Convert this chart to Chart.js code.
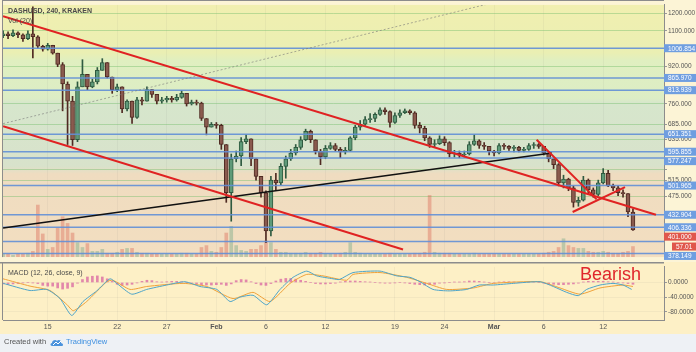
<!DOCTYPE html>
<html>
<head>
<meta charset="utf-8">
<script src="https://cdn.jsdelivr.net/npm/chart.js@4.4.1/dist/chart.umd.min.js"></script>
<style>
body{margin:0;background:#eef1f5;font-family:"Liberation Sans",Arial,sans-serif}
#wrap{position:relative;width:696px;height:352px;overflow:hidden;background:#eef1f5}
canvas{position:absolute;left:0}
.t{position:absolute;white-space:nowrap;line-height:1}
</style>
</head>
<body>
<div id="wrap">
<canvas id="price" width="696" height="262" style="top:0"></canvas>
<canvas id="macd" width="696" height="72" style="top:262px"></canvas>
<div class="t" style="left:8px;top:7px;font-size:7px;color:#4a4a4a;font-weight:bold">DASHUSD, 240, KRAKEN</div>
<div class="t" style="left:8px;top:17px;font-size:7px;color:#4a4a4a">Vol (20)</div>
<div class="t" style="left:8px;top:269px;font-size:7px;color:#4a4a4a">MACD (12, 26, close, 9)</div>
<div class="t" style="left:580px;top:265px;font-size:18px;color:#e0262c">Bearish</div>
<div class="t" style="left:4px;top:338px;font-size:7.5px;color:#555">Created with</div>
<svg style="position:absolute;left:50px;top:338px" width="14" height="9" viewBox="0 0 14 9">
  <path d="M2 8 C0 8 0 5 2 5 C2 2 6 1 7 3 C8 1 12 2 11 5 C13 5 14 8 12 8 Z" fill="#4a92dc"/>
  <path d="M3 7 L6 4 L8 6 L11 3" stroke="#fff" stroke-width="1" fill="none"/>
</svg>
<div class="t" style="left:66px;top:338px;font-size:7.5px;color:#3d8fe0">TradingView</div>
</div>
<script>
// 12h candles from Jan 10 12:00 (day 9.5, day 0 = Jan 1)
var opens = [1073,1083,1073,1088,1078,1057,1083,1067,1017,1002,
  1022,982,927,840,770,633,828,882,828,849,
  900,936,870,816,828,740,770,709,775,770,
  816,797,770,775,781,775,785,801,759,766,
  762,705,675,685,681,618,484,575,583,627,
  636,575,526,484,399,516,509,553,575,592,
  609,633,661,633,598,580,606,615,603,595,
  600,639,675,685,701,705,720,737,730,691,
  716,726,733,726,681,671,639,618,621,636,
  624,589,592,586,589,618,630,615,612,598,
  592,615,612,606,609,600,603,615,618,612,
  592,575,558,509,519,496,461,466,516,491,
  480,509,534,501,496,484,482,439];
var highs = [1099,1094,1105,1094,1083,1099,1242,1073,1022,1032,
  1022,982,936,849,789,849,950,882,861,913,
  955,936,870,840,828,775,770,785,785,828,
  816,797,785,789,789,797,812,801,774,774,
  766,705,691,691,685,618,589,598,640,649,
  636,575,526,489,526,534,561,583,603,618,
  643,668,665,633,603,615,624,621,609,609,
  643,681,698,712,723,726,744,744,733,726,
  737,740,737,730,691,678,643,633,646,643,
  627,600,598,598,627,649,633,624,612,600,
  621,621,615,615,612,609,621,624,621,612,
  592,575,561,529,521,501,473,526,519,496,
  516,547,542,506,501,491,482,446];
var lows = [1062,1057,1067,1062,1042,1052,959,1007,992,997,
  977,917,733,618,615,627,828,816,824,840,
  900,866,801,808,726,733,688,705,755,770,
  785,759,762,766,766,770,781,751,755,755,
  698,649,675,671,603,461,419,566,555,621,
  555,516,473,376,389,491,504,521,570,586,
  603,630,624,589,558,575,603,598,578,589,
  598,633,665,681,691,694,716,720,675,688,
  709,723,720,671,655,630,609,609,618,615,
  580,580,578,580,586,615,606,603,586,583,
  589,603,600,595,595,595,600,606,606,586,
  566,547,501,496,489,450,452,464,480,473,
  477,506,499,489,477,473,429,400];
var closes = [1083,1073,1088,1078,1057,1083,1067,1017,1002,1022,
  982,927,840,770,633,828,882,828,849,900,
  936,870,816,828,740,770,709,775,770,816,
  797,770,775,781,775,785,801,759,766,762,
  705,675,685,681,618,484,575,583,627,636,
  575,526,484,399,516,509,553,575,592,609,
  633,661,633,598,580,606,615,603,595,600,
  639,675,685,701,705,720,737,730,691,716,
  726,733,726,681,671,639,618,621,636,624,
  589,592,586,589,618,630,615,612,598,592,
  615,612,606,609,600,603,615,618,612,592,
  575,558,509,519,496,461,466,516,491,480,
  509,534,501,496,484,482,439,401];
var volumes = [16,16,10,16,16,21,31,281,125,42,
  52,156,218,182,130,78,52,73,31,31,
  42,21,21,26,42,47,47,26,21,21,
  16,16,16,16,16,16,21,21,16,16,
  52,62,31,26,52,130,166,62,36,31,
  42,42,62,88,78,42,26,26,21,21,
  21,26,21,21,26,16,16,16,21,26,
  78,26,21,16,16,16,16,16,21,16,
  16,16,16,21,21,26,333,26,21,21,
  21,16,16,16,16,21,16,16,16,16,
  16,16,16,16,16,16,16,16,16,21,
  26,31,52,99,62,52,47,47,31,26,
  26,31,26,21,21,26,31,57.01];
var histogram = [-4,-5,-4,-3,-1,0,-1,-3,-8,-10,
  -10,-15,-18,-16,-12,-2,8,15,17,18,
  15,10,3,-5,-8,-7,-5,-1,3,6,
  5,2,1,2,3,3,2,0,-2,-4,
  -6,-7,-7,-6,-5,-8,-4,5,8,7,
  2,-3,-7,-8,-3,4,9,11,11,9,
  6,3,0,-3,-4,-4,-3,-2,1,3,
  4,4,3,2,1,0,-1,-2,-2,-1,
  0,-1,-3,-5,-6,-7,-6,-5,-2,-1,
  0,1,1,2,4,4,3,1,0,-1,
  1,2,2,1,0,0,1,1,0,-2,
  -4,-5,-6,-6,-5,-4,-2,1,3,3,
  3,3,2,1,0,-1,-3,-5];

var macdDays = [9.52,12.22,13.9,15.24,16.42,17.56,18.94,20.28,20.96,22.47,23.98,26.0,27.84,29.35,31.04,32.38,33.39,34.7,36.08,37.42,38.73,40.11,41.12,42.76,43.4,44.78,47.5,49.18,50.52,51.53,52.84,54.47,56.24,57.5,58.92,60.94,63.63,64.97,66.32,67.49,68.33,69.68,70.99,72.0,72.87];
var macdVals = [-2.5,-22,-19,-44,-90,-52,-23,10,-2.5,-32,-19,-7,2,-11,-19,-52,-40,-35,-61,-19,14,31,18,10,8,27,31,18,14,2,-19,-23,-19,-7,-7,-2.5,2,-11,-27,-36,-19,-7,-2.5,-7,-19];
var signalDays = [9.49,12.22,14.23,15.92,16.58,17.93,19.95,20.58,22.3,23.98,27.64,30.03,32.68,34.7,36.41,38.43,40.11,41.75,44.14,44.78,47.5,50.19,52.21,54.22,56.91,58.92,63.63,65.64,67.66,69.68,72.0,73.0];
var signalVals = [10,-10,-22,-60,-77,-52,2,6,-19,-11,-2.5,-11,-44,-27,-52,-2.5,22,18,6,22,27,14,-2.5,-19,-15,-2.5,2,-15,-32,-15,-7,-11];

var levels = [1006.854,865.970,813.939,651.351,595.855,577.247,501.965,432.904,406.336,378.149];
var extraLevels = [355.7];
var lastClose = 401.000;
var lastVolume = 57.01;

var upperChannel = [[9.49,1184],[75.32,433]];
var lowerChannel = [[9.5,678],[49.82,363]];
var supportLine = [[9.5,405],[64.81,592]];
var steepLine = [[63.29,633],[69.34,468]];
var risingLine = [[66.92,439],[72.2,498]];
var dottedLine = [[9.5,687],[61.9,1316]];

var tickDays = [14,21,26,31,36,42,49,54,59,64,70];
var tickLabels = ['15','22','27','Feb','6','12','19','24','Mar','6','12'];
var priceTicks = [1200,1100,920,760,685,635,545,515,475];
var priceTickLabels = [1200,1100,920,760,685,635,515,475];
var macdTicks = [0,-40,-80];

var X0 = 9.49, X1 = 76.13;
var days = closes.map(function(c, i){ return 9.5 + 0.5 * i; });

function pts(a){ return a.map(function(p){ return {x:p[0], y:p[1]}; }); }
function lineDs(a, color, width, dash, order){
  return {type:'line', data:pts(a), borderColor:color, borderWidth:width, borderDash:dash||[],
    pointRadius:0, fill:false, order:order, yAxisID:'y'};
}

var up = closes.map(function(c, i){ return c >= opens[i]; });

var datasets = [
  {type:'bar', yAxisID:'yv', order:20, grouped:false, barThickness:3,
   data: volumes.map(function(v, i){ return {x:days[i], y:v}; }),
   backgroundColor: up.map(function(u){ return u ? 'rgba(107,165,131,0.4)' : 'rgba(215,84,66,0.35)'; })},
  {type:'bar', yAxisID:'y', order:8, grouped:false, barThickness:1,
   data: highs.map(function(h, i){ return {x:days[i], y:[lows[i], h]}; }),
   backgroundColor: up.map(function(u){ return u ? '#2f5a40' : '#4f2a22'; })},
  {type:'bar', yAxisID:'y', order:7, grouped:false, barThickness:4, minBarLength:1,
   borderSkipped:false, borderWidth:1,
   data: opens.map(function(o, i){ return {x:days[i], y:[Math.min(o, closes[i]), Math.max(o, closes[i])]}; }),
   backgroundColor: up.map(function(u){ return u ? '#5f9a78' : '#8a5a4e'; }),
   borderColor: up.map(function(u){ return u ? '#2f5a40' : '#4f2a22'; })}
];
levels.concat(extraLevels).forEach(function(v){
  datasets.push(lineDs([[X0, v],[X1, v]], 'rgba(98,143,214,0.9)', 1.5, null, 5));
});
datasets.push(lineDs(dottedLine, 'rgba(120,120,120,0.6)', 1, [2,2], 4));
datasets.push(lineDs(supportLine, '#111', 1.5, null, 3));
datasets.push(lineDs(upperChannel, '#e02222', 2, null, 2));
datasets.push(lineDs(lowerChannel, '#e02222', 2, null, 2));
datasets.push(lineDs(steepLine, '#e02222', 2, null, 2));
datasets.push(lineDs(risingLine, '#e02222', 2, null, 2));

var bgPlugin = {
  id:'bg',
  beforeDraw: function(chart){
    var ctx = chart.ctx, a = chart.chartArea;
    ctx.save();
    ctx.fillStyle = '#fcf4d6';
    ctx.fillRect(0, 0, chart.width, chart.height);
    var g = ctx.createLinearGradient(0, a.top, 0, a.bottom);
    g.addColorStop(0.00, '#f1efb0');
    g.addColorStop(0.19, '#eaefb3');
    g.addColorStop(0.22, '#e0efc0');
    g.addColorStop(0.37, '#dcedc5');
    g.addColorStop(0.39, '#d6e6cc');
    g.addColorStop(0.64, '#d8e2cb');
    g.addColorStop(0.67, '#efdcc0');
    g.addColorStop(1.00, '#f3dec0');
    ctx.fillStyle = g;
    ctx.fillRect(a.left, a.top, a.right - a.left, a.bottom - a.top);
    ctx.restore();
  },
  afterDraw: function(chart){
    var ctx = chart.ctx, a = chart.chartArea, y = chart.scales.y, yv = chart.scales.yv;
    ctx.save();
    ctx.fillStyle = '#8c8c8c';
    ctx.fillRect(a.left - 1, 0, 1, a.bottom);
    ctx.fillRect(a.left - 1, 0, a.right - a.left + 1, 1);
    var items = levels.map(function(v){ return {y:y.getPixelForValue(v), t:v.toFixed(3), c:'#6f9ee0', x:a.right}; });
    var py = y.getPixelForValue(lastClose);
    items.push({y:py, t:lastClose.toFixed(3), c:'#e0574c', x:a.right});
    var vi = {y:yv.getPixelForValue(lastVolume), t:lastVolume.toFixed(2), c:'#e0574c', x:a.right + 8};
    vi.key = py + 0.1;
    items.push(vi);
    items.forEach(function(it){ if (it.key === undefined) it.key = it.y; });
    items.sort(function(p, q){ return p.key - q.key; });
    var prev = -99;
    items.forEach(function(it){ if (it.y < prev + 9.4) it.y = prev + 9.4; prev = it.y; });
    ctx.font = '6.5px "Liberation Sans", Arial, sans-serif';
    ctx.textBaseline = 'middle';
    items.forEach(function(it){
      ctx.fillStyle = it.c;
      ctx.fillRect(it.x, it.y - 4, chart.width - it.x, 8);
      ctx.fillStyle = '#fff';
      ctx.fillText(it.t, it.x + 4, it.y + 0.5);
    });
    ctx.restore();
  }
};

new Chart(document.getElementById('price'), {
  type:'bar',
  data:{datasets:datasets},
  options:{
    responsive:false, animation:false, events:[],
    layout:{padding:{left:3, top:0, right:0, bottom:0}},
    plugins:{legend:{display:false}, tooltip:{enabled:false}},
    scales:{
      x:{type:'linear', min:X0, max:X1, offset:false,
        afterBuildTicks:function(s){ s.ticks = tickDays.map(function(v){ return {value:v}; }); },
        afterFit:function(s){ s.height = 0; },
        ticks:{display:false}, border:{display:false},
        grid:{drawTicks:false, offset:false, color:'rgba(110,110,110,0.07)'}},
      y:{type:'logarithmic', position:'right', min:349.3, max:1254,
        afterBuildTicks:function(s){ s.ticks = priceTicks.map(function(v){ return {value:v}; }); },
        afterFit:function(s){ s.width = 32; },
        ticks:{color:'#555', padding:1, font:{size:6.5, family:'"Liberation Sans", Arial, sans-serif'},
          callback:function(v){ return priceTickLabels.indexOf(v) >= 0 ? v.toFixed(3) : ''; }},
        grid:{tickLength:3, color:'rgba(120,190,110,0.45)', tickColor:'#999'},
        border:{color:'#8c8c8c'}},
      yv:{type:'linear', display:false, min:0, max:1362}
    }
  },
  plugins:[bgPlugin]
});

var macdBg = {
  id:'macdbg',
  beforeDraw:function(chart){
    var ctx = chart.ctx;
    ctx.save();
    ctx.fillStyle = '#fdf0c6';
    ctx.fillRect(0, 0, chart.width, chart.height);
    ctx.restore();
  },
  afterDraw:function(chart){
    var ctx = chart.ctx, a = chart.chartArea;
    ctx.save();
    ctx.fillStyle = '#8c8c8c';
    ctx.fillRect(0, 0, a.right, 1.5);
    ctx.fillRect(a.left - 1, 0, 1, a.bottom);
    ctx.restore();
  }
};

new Chart(document.getElementById('macd'), {
  type:'bar',
  data:{datasets:[
    {type:'bar', order:3, barThickness:2,
     data: histogram.map(function(v, i){ return {x:days[i], y:v}; }),
     backgroundColor:'rgba(214,90,158,0.7)'},
    {type:'line', order:1, data: macdDays.map(function(d, i){ return {x:d, y:macdVals[i]}; }),
     borderColor:'#4ea5c9', borderWidth:1, pointRadius:0, tension:0.2},
    {type:'line', order:2, data: signalDays.map(function(d, i){ return {x:d, y:signalVals[i]}; }),
     borderColor:'#f0a23a', borderWidth:1, pointRadius:0, tension:0.2}
  ]},
  options:{
    responsive:false, animation:false, events:[],
    layout:{padding:{left:3, top:1, right:0, bottom:0}},
    plugins:{legend:{display:false}, tooltip:{enabled:false}},
    scales:{
      x:{type:'linear', min:X0, max:X1, offset:false,
        afterBuildTicks:function(s){ s.ticks = tickDays.map(function(v){ return {value:v}; }); },
        afterFit:function(s){ s.height = 14; },
        ticks:{autoSkip:false, maxRotation:0, color:'#555', padding:3,
          font:function(c){ return {size:7, family:'"Liberation Sans", Arial, sans-serif',
            weight: (c.index === 3 || c.index === 8) ? 'bold' : 'normal'}; },
          callback:function(v, i){ return tickLabels[i]; }},
        grid:{drawTicks:false, offset:false, color:'rgba(110,110,110,0.07)'},
        border:{color:'#8c8c8c'}},
      y:{type:'linear', position:'right', min:-102.5, max:42.5,
        afterBuildTicks:function(s){ s.ticks = macdTicks.map(function(v){ return {value:v}; }); },
        afterFit:function(s){ s.width = 32; },
        ticks:{color:'#555', padding:1, font:{size:6.5, family:'"Liberation Sans", Arial, sans-serif'},
          callback:function(v){ return v.toFixed(4); }},
        grid:{tickLength:3, color:'rgba(110,110,110,0.07)', tickColor:'#999'},
        border:{color:'#8c8c8c'}}
    }
  },
  plugins:[macdBg]
});
</script>
</body>
</html>
